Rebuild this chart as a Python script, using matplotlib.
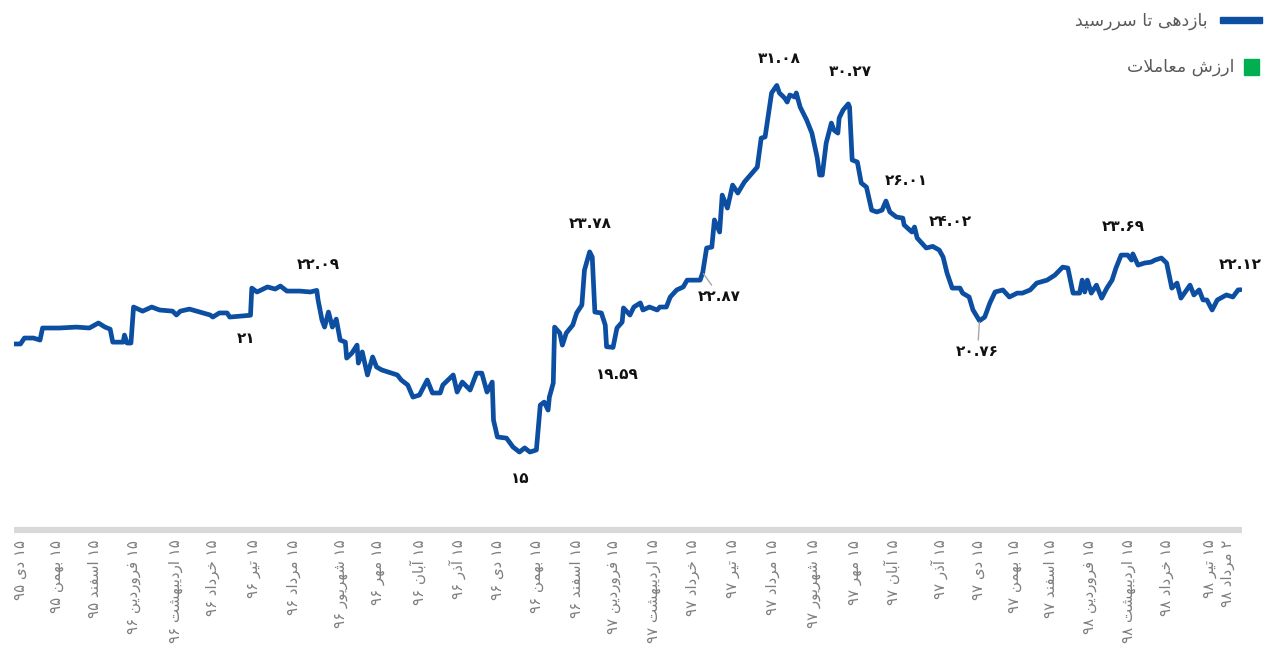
import re
import matplotlib
matplotlib.use("Agg")
import matplotlib.pyplot as plt
from matplotlib.patches import Rectangle

plt.rcParams['font.family'] = ['DejaVu Sans']

# ---------- data ----------
days = [0, 5, 8, 15, 20, 22, 25, 35, 48, 58, 65, 70, 74, 76, 84, 85, 87, 90,
        92, 99, 106, 112, 122, 125, 128, 135, 143, 151, 153, 158, 164, 166, 174,
        182, 183, 187, 195, 201, 205, 210, 220, 228, 233, 234, 237, 239, 242, 245,
        248, 251, 255, 256, 260, 264, 265, 268, 272, 276, 279, 283, 295, 298, 303,
        307, 312, 318, 322, 328, 330, 338, 341, 345, 351, 356, 360, 364, 368, 369,
        372, 379, 384, 389, 393, 397, 402, 405, 408, 411, 412, 415, 416, 420, 422,
        425, 430, 433, 437, 439, 443, 445, 447, 452, 455, 456, 461, 464, 468, 469,
        474, 477, 482, 484, 489, 495, 497, 502, 505, 510, 515, 518, 528, 530, 533,
        537, 539, 543, 545, 549, 553, 557, 562, 568, 572, 575, 578, 583, 587, 589,
        593, 595, 597, 601, 602, 605, 610, 614, 618, 620, 622, 625, 629, 631, 634,
        635, 638, 642, 643, 645, 649, 652, 656, 660, 664, 668, 671, 674, 679, 684,
        685, 691, 693, 695, 702, 707, 712, 715, 718, 722, 728, 730, 735, 738, 743,
        747, 751, 755, 761, 766, 772, 776, 782, 787, 795, 801, 807, 811, 815, 820,
        822, 824, 826, 829, 833, 837, 841, 845, 848, 852, 857, 860, 861, 865, 870,
        875, 878, 883, 887, 891, 895, 898, 905, 908, 912, 915, 918, 922, 926, 933,
        938, 942, 944]
ytm = [19.74, 19.74, 20.00, 20.00, 19.91, 20.44, 20.44, 20.44, 20.48, 20.44, 20.66,
       20.48, 20.39, 19.82, 19.82, 20.13, 19.78, 19.78, 21.36, 21.18, 21.36, 21.23,
       21.18, 21.01, 21.18, 21.27, 21.14, 21.01, 20.92, 21.10, 21.10, 20.92, 20.96,
       21.00, 22.19, 22.02, 22.24, 22.15, 22.28, 22.06, 22.06, 22.02, 22.09, 21.67,
       20.79, 20.48, 21.14, 20.48, 20.83, 19.91, 19.82, 19.12, 19.34, 19.69, 18.90,
       19.39, 18.38, 19.17, 18.73, 18.60, 18.38, 18.16, 17.94, 17.41, 17.50, 18.16,
       17.59, 17.59, 17.94, 18.38, 17.63, 18.07, 17.72, 18.46, 18.46, 17.63, 18.07,
       16.40, 15.66, 15.61, 15.22, 15.00, 15.18, 15.00, 15.09, 17.06, 17.19, 16.84,
       17.41, 18.03, 20.48, 20.22, 19.69, 20.22, 20.57, 21.10, 21.45, 22.98, 23.78,
       23.55, 21.14, 21.10, 20.57, 19.62, 19.59, 20.44, 20.70, 21.32, 21.01, 21.36,
       21.54, 21.23, 21.36, 21.23, 21.36, 21.36, 21.80, 22.11, 22.24, 22.54, 22.54,
       22.87, 23.95, 23.99, 25.18, 24.65, 26.27, 25.70, 26.71, 26.36, 26.84, 27.24,
       27.50, 28.77, 28.82, 30.75, 31.08, 30.75, 30.53, 30.35, 30.66, 30.57, 30.75,
       30.13, 29.56, 28.99, 27.94, 27.15, 27.15, 28.55, 29.43, 29.12, 28.99, 29.65,
       30.00, 30.27, 30.13, 27.81, 27.72, 26.80, 26.62, 25.61, 25.53, 25.61, 26.01,
       25.53, 25.31, 25.26, 24.96, 24.65, 24.87, 24.39, 23.95, 24.02, 23.86, 23.55,
       22.85, 22.19, 22.19, 21.97, 21.80, 21.23, 20.76, 20.92, 21.54, 22.02, 22.11,
       21.80, 21.97, 21.97, 22.11, 22.41, 22.54, 22.76, 23.11, 23.07, 21.97, 21.97,
       22.54, 22.02, 22.54, 21.97, 22.32, 21.75, 22.19, 22.54, 23.07, 23.64, 23.64,
       23.42, 23.69, 23.20, 23.29, 23.33, 23.42, 23.51, 23.29, 22.19, 22.41, 21.75,
       22.32, 21.89, 22.11, 21.67, 21.67, 21.23, 21.67, 21.89, 21.80, 22.11, 22.12]

tick_days = [5, 33, 62, 92, 124, 153, 184, 215, 251, 280, 311, 341, 372, 402, 433,
             461, 492, 522, 553, 584, 615, 647, 676, 712, 742, 770, 798, 828, 858,
             887, 920, 934]
tick_labels = ["۱۵ دی ۹۵", "۱۵ بهمن ۹۵", "۱۵ اسفند ۹۵",
               "۱۵ فروردین ۹۶", "۱۵ اردیبهشت ۹۶", "۱۵ خرداد ۹۶", "۱۵ تیر ۹۶",
               "۱۵ مرداد ۹۶", "۱۵ شهریور ۹۶", "۱۵ مهر ۹۶", "۱۵ آبان ۹۶",
               "۱۵ آذر ۹۶", "۱۵ دی ۹۶", "۱۵ بهمن ۹۶", "۱۵ اسفند ۹۶",
               "۱۵ فروردین ۹۷", "۱۵ اردیبهشت ۹۷", "۱۵ خرداد ۹۷", "۱۵ تیر ۹۷",
               "۱۵ مرداد ۹۷", "۱۵ شهریور ۹۷", "۱۵ مهر ۹۷", "۱۵ آبان ۹۷",
               "۱۵ آذر ۹۷", "۱۵ دی ۹۷", "۱۵ بهمن ۹۷", "۱۵ اسفند ۹۷",
               "۱۵ فروردین ۹۸", "۱۵ اردیبهشت ۹۸", "۱۵ خرداد ۹۸", "۱۵ تیر ۹۸",
               "۲ مرداد ۹۸"]

ann_days = [233, 182, 389, 443, 461, 530, 587, 642, 671, 707, 743, 861, 944]
ann_text = ["۲۲.۰۹", "۲۱", "۱۵", "۲۳.۷۸", "۱۹.۵۹", "۲۲.۸۷", "۳۱.۰۸",
            "۳۰.۲۷", "۲۶.۰۱", "۲۴.۰۲", "۲۰.۷۶", "۲۳.۶۹", "۲۲.۱۲"]
# label offset in pixels from the point, and whether a leader line is drawn
ann_off = [(2, 26), (-4, -23), (1, -26), (1, 28), (4, -27), (17, -24), (2, 27),
           (2, 32), (20, 21), (18, 25), (-2, -31), (-10, 27), (0, 25)]
ann_leader = [False, False, False, False, False, True, False,
              False, False, False, True, False, False]

legend_names = ["بازدهی تا سررسید", "ارزش معاملات"]
legend_colors = ["#0b4ea2", "#00b050"]


# ---------- persian shaping (matplotlib has no bidi / joining) ----------
FORMS = {
    'ا': ('\uFE8D', '\uFE8E', None, None),
    'آ': ('\uFE81', '\uFE82', None, None),
    'د': ('\uFEA9', '\uFEAA', None, None),
    'ذ': ('\uFEAB', '\uFEAC', None, None),
    'ر': ('\uFEAD', '\uFEAE', None, None),
    'ز': ('\uFEAF', '\uFEB0', None, None),
    'و': ('\uFEED', '\uFEEE', None, None),
    'ب': ('\uFE8F', '\uFE90', '\uFE91', '\uFE92'),
    'ت': ('\uFE95', '\uFE96', '\uFE97', '\uFE98'),
    'خ': ('\uFEA5', '\uFEA6', '\uFEA7', '\uFEA8'),
    'س': ('\uFEB1', '\uFEB2', '\uFEB3', '\uFEB4'),
    'ش': ('\uFEB5', '\uFEB6', '\uFEB7', '\uFEB8'),
    'ع': ('\uFEC9', '\uFECA', '\uFECB', '\uFECC'),
    'ف': ('\uFED1', '\uFED2', '\uFED3', '\uFED4'),
    'ل': ('\uFEDD', '\uFEDE', '\uFEDF', '\uFEE0'),
    'م': ('\uFEE1', '\uFEE2', '\uFEE3', '\uFEE4'),
    'ن': ('\uFEE5', '\uFEE6', '\uFEE7', '\uFEE8'),
    'ه': ('\uFEE9', '\uFEEA', '\uFEEB', '\uFEEC'),
    'ی': ('\uFBFC', '\uFBFD', '\uFBFE', '\uFBFF'),
}


def dual(c):
    return c in FORMS and FORMS[c][2] is not None


def fa(text):
    out = []
    i = 0
    while i < len(text):
        c = text[i]
        prev = text[i - 1] if i > 0 else ''
        if c not in FORMS:
            out.append(c)
            i += 1
            continue
        link_prev = dual(prev)
        if c == 'ل' and i + 1 < len(text) and text[i + 1] == 'ا':
            out.append('\uFEFC' if link_prev else '\uFEFB')
            i += 2
            continue
        nxt = text[i + 1] if i + 1 < len(text) else ''
        link_next = dual(c) and nxt in FORMS
        iso, fin, ini, med = FORMS[c]
        if link_prev and link_next:
            out.append(med)
        elif link_prev:
            out.append(fin)
        elif link_next:
            out.append(ini)
        else:
            out.append(iso)
        i += 1
    s = ''.join(out)[::-1]
    # numbers stay left to right
    return re.sub(r'[۰-۹0-9.]+', lambda m: m.group()[::-1], s)


# ---------- plot ----------
fig = plt.figure(figsize=(12.64, 6.45), dpi=100)
ax = fig.add_axes([14 / 1264, 1 - 530 / 645, 1228 / 1264, 510 / 645])

ax.plot(days, ytm, color=legend_colors[0], lw=3.4,
        solid_joinstyle='round', solid_capstyle='round')

ax.set_xlim(0, 945)
ax.set_ylim(11.58, 33.95)
ax.set_yticks([])
for s in ['top', 'left', 'right']:
    ax.spines[s].set_visible(False)
ax.spines['bottom'].set_color('#d9d9d9')
ax.spines['bottom'].set_linewidth(4.5)
ax.spines['bottom'].set_capstyle('butt')

ax.set_xticks(tick_days)
ax.set_xticklabels([fa(t) for t in tick_labels], rotation=90,
                   color='#7f7f7f', fontsize=10.8)
ax.tick_params(axis='x', length=0, pad=7)

for d, t, off, lead in zip(ann_days, ann_text, ann_off, ann_leader):
    v = ytm[days.index(d)]
    props = None
    if lead:
        props = dict(arrowstyle='-', color='#a6a6a6', lw=1.0,
                     shrinkA=1, shrinkB=1)
    ax.annotate(t, xy=(d, v), xytext=off, textcoords='offset pixels',
                ha='center', va='center', fontsize=11, fontweight='bold',
                color='#111111', arrowprops=props)

# legend drawn at the top right, marker after the text
fig.text(1208 / 1264, 1 - 21 / 645, fa(legend_names[0]), ha='right',
         va='center', fontsize=12.5, color='#595959')
fig.patches.append(Rectangle((1220 / 1264, 1 - 23 / 645), 42 / 1264, 6 / 645,
                             transform=fig.transFigure, color=legend_colors[0]))
fig.text(1234 / 1264, 1 - 67 / 645, fa(legend_names[1]), ha='right',
         va='center', fontsize=12.5, color='#595959')
fig.patches.append(Rectangle((1244 / 1264, 1 - 75 / 645), 15 / 1264, 16 / 645,
                             transform=fig.transFigure, color=legend_colors[1]))

fig.savefig('out.png', dpi=100)
